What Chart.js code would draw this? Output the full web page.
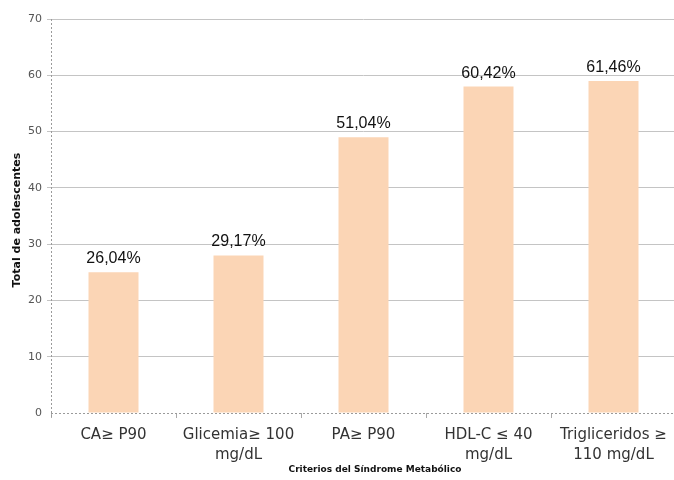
<!DOCTYPE html>
<html>
<head>
<meta charset="utf-8">
<script src="https://cdn.jsdelivr.net/npm/chart.js@4/dist/chart.umd.min.js"></script>
<style>
  html, body { margin: 0; padding: 0; background: #fff; overflow: hidden; }
  #wrap { width: 680px; height: 480px; }
</style>
</head>
<body>
<div id="wrap"><canvas id="c" width="680" height="480"></canvas></div>
<script>
// Criteria of the metabolic syndrome (multi-line labels)
const categories = [
  ['CA\u2265 P90'],
  ['Glicemia\u2265 100', 'mg/dL'],
  ['PA\u2265 P90'],
  ['HDL-C \u2264 40', 'mg/dL'],
  ['Trigliceridos \u2265', '110 mg/dL']
];
// Number of adolescents meeting each criterion
const counts = [25, 28, 49, 58, 59];
// Share of the group, shown above each bar
const percentLabels = ['26,04%', '29,17%', '51,04%', '60,42%', '61,46%'];
const yTicks = [0, 10, 20, 30, 40, 50, 60, 70];

const tickFont = '"DejaVu Sans", sans-serif';

const labelsPlugin = {
  id: 'barLabels',
  beforeDatasetsDraw(chart) {
    // dotted axis lines on the left and bottom of the plot
    const ctx = chart.ctx;
    const a = chart.chartArea;
    ctx.save();
    ctx.strokeStyle = '#9a9a9a';
    ctx.lineWidth = 1;
    ctx.setLineDash([2, 2]);
    ctx.beginPath();
    ctx.moveTo(a.left + 0.5, a.top);
    ctx.lineTo(a.left + 0.5, a.bottom + 5);
    ctx.moveTo(a.left, Math.round(a.bottom) + 0.5);
    ctx.lineTo(a.right, Math.round(a.bottom) + 0.5);
    ctx.stroke();
    ctx.restore();
  },
  afterDatasetsDraw(chart) {
    const ctx = chart.ctx;
    const meta = chart.getDatasetMeta(0);
    ctx.save();
    ctx.font = '16px "Liberation Sans", Arial, sans-serif';
    ctx.fillStyle = '#111';
    ctx.textAlign = 'center';
    ctx.textBaseline = 'alphabetic';
    meta.data.forEach((bar, i) => {
      ctx.fillText(percentLabels[i], bar.x, bar.y - 9);
    });
    ctx.restore();
  },
  afterDraw(chart) {
    const ctx = chart.ctx;
    ctx.save();
    ctx.fillStyle = '#111';
    ctx.textAlign = 'center';
    ctx.textBaseline = 'middle';
    ctx.font = 'bold 9px "DejaVu Sans", sans-serif';
    ctx.fillText('Criterios del S\u00edndrome Metab\u00f3lico', 375, 470);
    ctx.font = 'bold 11px "DejaVu Sans", sans-serif';
    ctx.translate(17, 220);
    ctx.rotate(-Math.PI / 2);
    ctx.fillText('Total de adolescentes', 0, 0);
    ctx.restore();
  }
};

new Chart(document.getElementById('c'), {
  type: 'bar',
  data: {
    labels: categories,
    datasets: [{
      data: counts,
      backgroundColor: '#FBD5B5',
      borderWidth: 0,
      barPercentage: 0.4,
      categoryPercentage: 1.0
    }]
  },
  options: {
    responsive: false,
    animation: false,
    devicePixelRatio: 1,
    layout: { padding: { top: 19, right: 4, left: 0, bottom: 0 } },
    plugins: { legend: { display: false }, tooltip: { enabled: false } },
    scales: {
      y: {
        min: 0,
        max: 70,
        afterBuildTicks(scale) { scale.ticks = yTicks.map(v => ({ value: v })); },
        afterFit(scale) { scale.width = 51; },
        ticks: {
          font: { family: tickFont, size: 11 },
          color: '#555',
          padding: 5
        },
        grid: {
          color: (c) => c.tick && c.tick.value === 0 ? 'rgba(0,0,0,0)' : '#c4c4c4',
          lineWidth: 1,
          tickLength: 4,
          drawTicks: true
        },
        border: { display: false }
      },
      x: {
        afterFit(scale) { scale.height = 67; },
        ticks: {
          font: { family: tickFont, size: 15, lineHeight: 1.35 },
          color: '#333',
          padding: 7,
          maxRotation: 0,
          autoSkip: false
        },
        grid: {
          drawOnChartArea: false,
          drawTicks: true,
          tickLength: 5,
          color: '#aaa'
        },
        border: { display: false }
      }
    }
  },
  plugins: [labelsPlugin]
});
</script>
</body>
</html>
